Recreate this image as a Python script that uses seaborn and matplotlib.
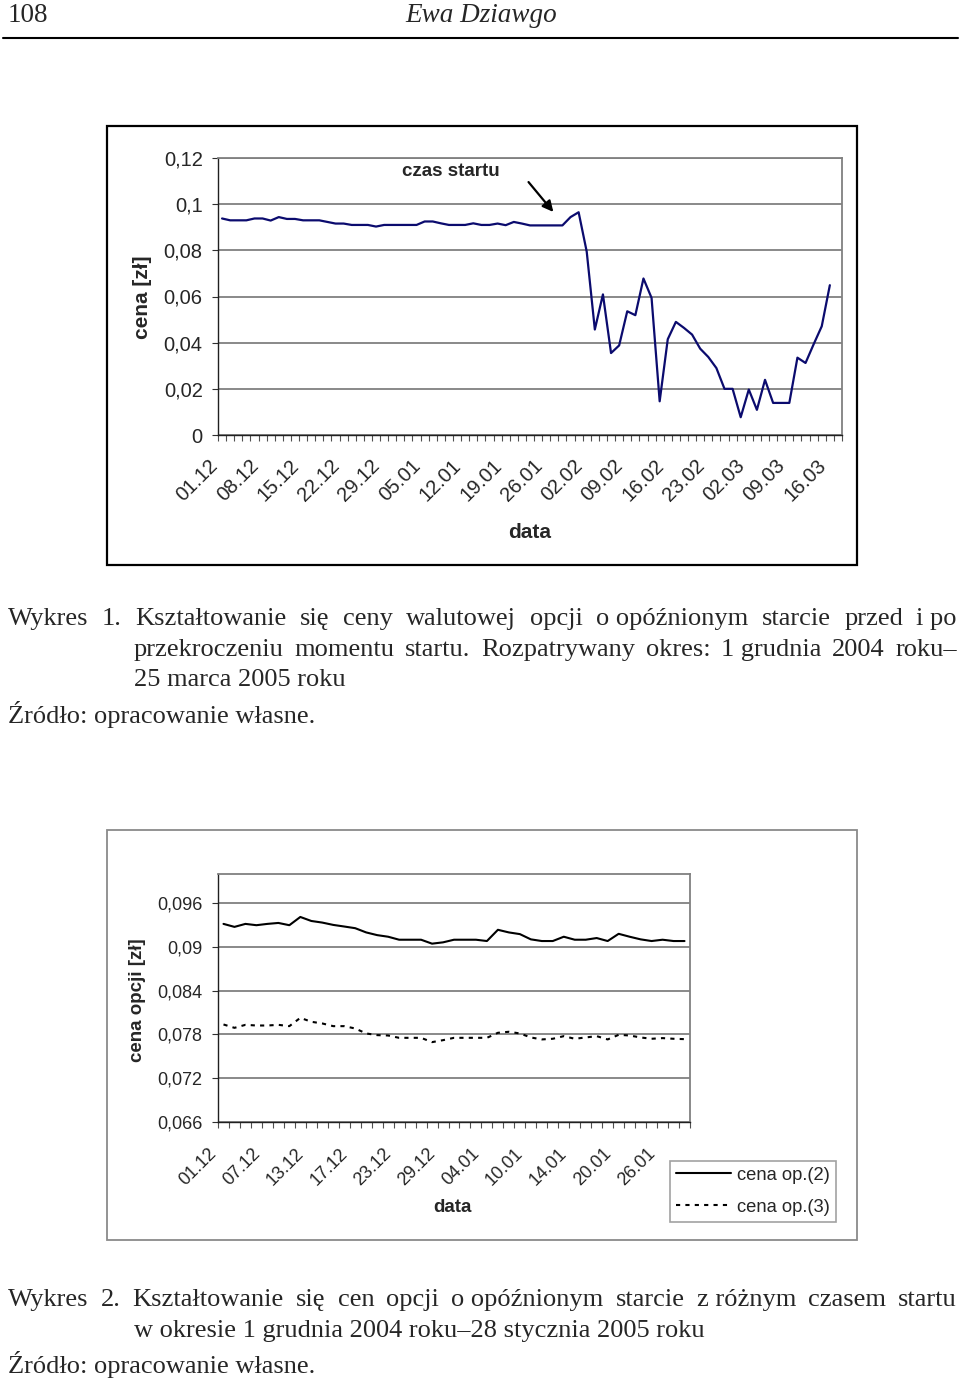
import numpy as np
import pandas as pd
import matplotlib
matplotlib.use("Agg")
import matplotlib.pyplot as plt
import seaborn as sns
from matplotlib.patches import Rectangle
from matplotlib.lines import Line2D
from matplotlib.ticker import FuncFormatter
from matplotlib.transforms import ScaledTranslation

# ---------------- data ----------------
# Chart 1: option price, business days 01.12.2004 - 16.03.2005
labels1 = ["01.12", "08.12", "15.12", "22.12", "29.12", "05.01", "12.01", "19.01",
           "26.01", "02.02", "09.02", "16.02", "23.02", "02.03", "09.03", "16.03"]
price1 = [0.0938, 0.0930, 0.0930, 0.0930, 0.0938, 0.0938, 0.0929, 0.0944, 0.0936, 0.0936,
          0.0930, 0.0930, 0.0930, 0.0923, 0.0916, 0.0916, 0.0910, 0.0910, 0.0910, 0.0903,
          0.0910, 0.0910, 0.0910, 0.0910, 0.0910, 0.0925, 0.0925, 0.0917, 0.0910, 0.0910,
          0.0910, 0.0917, 0.0910, 0.0910, 0.0916, 0.0909, 0.0923, 0.0916, 0.0908, 0.0908,
          0.0908, 0.0908, 0.0908, 0.0944, 0.0965, 0.0794, 0.0457, 0.0609, 0.0355, 0.0388,
          0.0536, 0.0519, 0.0678, 0.0594, 0.0146, 0.0415, 0.0490, 0.0464, 0.0435, 0.0374,
          0.0338, 0.0290, 0.0200, 0.0200, 0.0077, 0.0197, 0.0109, 0.0239, 0.0139, 0.0139,
          0.0139, 0.0335, 0.0312, 0.0393, 0.0471, 0.0649]
yticks1 = [0, 0.02, 0.04, 0.06, 0.08, 0.10, 0.12]

# Chart 2: two option prices, business days 01.12.2004 - 28.01.2005
labels2 = ["01.12", "07.12", "13.12", "17.12", "23.12", "29.12", "04.01", "10.01",
           "14.01", "20.01", "26.01"]
price_op2 = [0.09316, 0.09275, 0.09316, 0.09298, 0.09316, 0.09329, 0.09298, 0.09411, 0.09356,
             0.09334, 0.09302, 0.09280, 0.09257, 0.09199, 0.09162, 0.09140, 0.09099, 0.09099,
             0.09099, 0.09045, 0.09063, 0.09099, 0.09099, 0.09099, 0.09081, 0.09235, 0.09199,
             0.09176, 0.09104, 0.09081, 0.09081, 0.09140, 0.09099, 0.09099, 0.09122, 0.09081,
             0.09180, 0.09140, 0.09104, 0.09081, 0.09099, 0.09081, 0.09081]
price_op3 = [0.07937, 0.07891, 0.07932, 0.07923, 0.07923, 0.07932, 0.07914, 0.08028, 0.07974,
             0.07951, 0.07914, 0.07914, 0.07882, 0.07814, 0.07791, 0.07786, 0.07754, 0.07754,
             0.07754, 0.07695, 0.07722, 0.07754, 0.07754, 0.07754, 0.07754, 0.07823, 0.07837,
             0.07814, 0.07759, 0.07732, 0.07741, 0.07777, 0.07741, 0.07759, 0.07777, 0.07732,
             0.07795, 0.07786, 0.07759, 0.07741, 0.07750, 0.07741, 0.07736]
yticks2 = [0.066, 0.072, 0.078, 0.084, 0.090, 0.096]

# ---------------- style ----------------
sns.set_theme(style="white")
SANS = ["Liberation Sans", "DejaVu Sans"]
SERIF = ["Liberation Serif", "DejaVu Serif"]
plt.rcParams["font.family"] = SANS

W, H = 960, 1380
fig = plt.figure(figsize=(W / 100, H / 100), dpi=100)
fig.patch.set_facecolor("white")


def fx(x):
    return x / W


def fy(y):
    return 1 - y / H


def axes_px(l, t, r, b):
    return fig.add_axes([fx(l), fy(b), (r - l) / W, (b - t) / H])


def comma_fmt(v, pos=None):
    s = f"{v:.3f}".rstrip("0").rstrip(".")
    return s.replace(".", ",")


def style_axes(ax, n, label_idx, labels, yticks, tick_fs, xlab_pad, dx_px):
    ax.set_facecolor("white")
    ax.set_xlim(-0.5, n - 0.5)
    ax.set_yticks(yticks)
    ax.yaxis.set_major_formatter(FuncFormatter(comma_fmt))
    ax.yaxis.grid(True, color="#808080", lw=1.3)
    ax.xaxis.grid(False)
    ax.set_axisbelow(True)
    for s in ["top", "right"]:
        ax.spines[s].set_color("#808080")
        ax.spines[s].set_linewidth(1.3)
    for s in ["left", "bottom"]:
        ax.spines[s].set_color("#202020")
        ax.spines[s].set_linewidth(1.0)
    ax.set_xticks(label_idx)
    ax.set_xticklabels(labels, rotation=45, ha="right", rotation_mode="anchor",
                       va="center", fontsize=tick_fs)
    ax.set_xticks(np.arange(-0.5, n, 1.0), minor=True)
    ax.tick_params(axis="x", which="major", length=0, pad=xlab_pad)
    ax.tick_params(axis="x", which="minor", length=4, width=0.8, color="#505050",
                   direction="out", bottom=True)
    ax.tick_params(axis="y", which="major", length=4, width=0.8, color="#303030",
                   direction="out", left=True, pad=7, labelsize=tick_fs)
    off = ScaledTranslation(-dx_px / 100, 0, fig.dpi_scale_trans)
    for lab in ax.get_xticklabels():
        lab.set_transform(lab.get_transform() + off)


# ---------------- chart 1 ----------------
fig.add_artist(Rectangle((fx(107), fy(565)), 750 / W, 439 / H, transform=fig.transFigure,
                         fill=False, ec="black", lw=1.6))
ax1 = axes_px(218, 158, 842, 435)
n1_cats = len(price1) + 1
df1 = pd.DataFrame({"idx": np.arange(len(price1)), "cena": price1})
sns.lineplot(data=df1, x="idx", y="cena", ax=ax1, color="#0b0b6e", lw=1.6)
ax1.set_ylim(0, 0.12)
style_axes(ax1, n1_cats, list(range(0, len(price1), 5)), labels1, yticks1, 14.5, 20, 7)
ax1.set_xlabel("data", fontsize=15, fontweight="bold")
ax1.xaxis.set_label_coords((530 - 218) / 624, (435 - 532) / 277)
ax1.xaxis.label.set_va("center")
ax1.set_ylabel("cena [zł]", fontsize=15, fontweight="bold")
ax1.yaxis.set_label_coords((142 - 218) / 624, (435 - 297) / 277)
ax1.yaxis.label.set_va("center")
ax1.text(28.2, 0.1143, "czas startu", fontsize=13.5, fontweight="bold",
         ha="center", va="center")
ax1.annotate("", xy=(41.1, 0.0957), xytext=(37.6, 0.1105),
             arrowprops=dict(arrowstyle="-|>", color="black", lw=1.6, mutation_scale=16))

# ---------------- chart 2 ----------------
fig.add_artist(Rectangle((fx(107), fy(1240)), 750 / W, 410 / H, transform=fig.transFigure,
                         fill=False, ec="#8a8a8a", lw=1.3))
ax2 = axes_px(218, 874, 690, 1122)
df2 = pd.DataFrame({"idx": np.arange(len(price_op2)), "op2": price_op2, "op3": price_op3})
sns.lineplot(data=df2, x="idx", y="op2", ax=ax2, color="black", lw=1.5, label="cena op.(2)")
sns.lineplot(data=df2, x="idx", y="op3", ax=ax2, color="black", lw=1.5,
             linestyle=(0, (2, 2.5)), label="cena op.(3)")
ax2.set_ylim(0.066, 0.1)
style_axes(ax2, len(price_op2), list(range(0, len(price_op2), 4)), labels2, yticks2, 13, 21, 10)
ax2.set_xlabel("data", fontsize=13.5, fontweight="bold")
ax2.xaxis.set_label_coords((452 - 218) / 472, (1122 - 1208) / 248)
ax2.xaxis.label.set_va("center")
ax2.set_ylabel("cena opcji [zł]", fontsize=13.5, fontweight="bold")
ax2.yaxis.set_label_coords((138 - 218) / 472, (1122 - 1000) / 248)
ax2.yaxis.label.set_va("center")
leg = ax2.legend(loc="lower left", bbox_to_anchor=(fx(670), fy(1222)),
                 bbox_transform=fig.transFigure, borderaxespad=0, frameon=True,
                 fancybox=False, edgecolor="#8a8a8a", fontsize=13.2, handlelength=3.0,
                 handletextpad=0.3, labelspacing=0.8, borderpad=0.35)
leg.get_frame().set_linewidth(1.2)

# ---------------- page text ----------------
fig.text(fx(8), fy(22), "108", family=SERIF, fontsize=19.5, va="baseline", ha="left")
fig.text(fx(481), fy(22), "Ewa Dziawgo", family=SERIF, style="italic", fontsize=19.5,
         va="baseline", ha="center")
fig.add_artist(Line2D([fx(3), fx(958)], [fy(38), fy(38)], transform=fig.transFigure,
                      color="black", lw=1.5))

renderer = fig.canvas.get_renderer()
CAP_FS = 19


def justify(tokens, x0, x1, ybase):
    texts = [fig.text(0, fy(ybase), t, family=SERIF, fontsize=CAP_FS, va="baseline", ha="left")
             for t in tokens]
    widths = [t.get_window_extent(renderer).width for t in texts]
    gap = (x1 - x0 - sum(widths)) / (len(tokens) - 1)
    x = x0
    for t, w in zip(texts, widths):
        t.set_x(fx(x))
        x += w + gap


def left(text, x0, ybase):
    fig.text(fx(x0), fy(ybase), text, family=SERIF, fontsize=CAP_FS, va="baseline", ha="left")


justify(["Wykres", "1.", "Kształtowanie", "się", "ceny", "walutowej", "opcji",
         "o opóźnionym", "starcie", "przed", "i po"], 8, 957, 625)
justify(["przekroczeniu", "momentu", "startu.", "Rozpatrywany", "okres:", "1 grudnia",
         "2004", "roku–"], 134, 957, 656)
left("25 marca 2005 roku", 134, 686)
left("Źródło: opracowanie własne.", 8, 723)

justify(["Wykres", "2.", "Kształtowanie", "się", "cen", "opcji", "o opóźnionym", "starcie",
         "z różnym", "czasem", "startu"], 8, 957, 1306)
left("w okresie 1 grudnia 2004 roku–28 stycznia 2005 roku", 134, 1337)
left("Źródło: opracowanie własne.", 8, 1373)

fig.savefig("out.png", dpi=100, facecolor="white")
